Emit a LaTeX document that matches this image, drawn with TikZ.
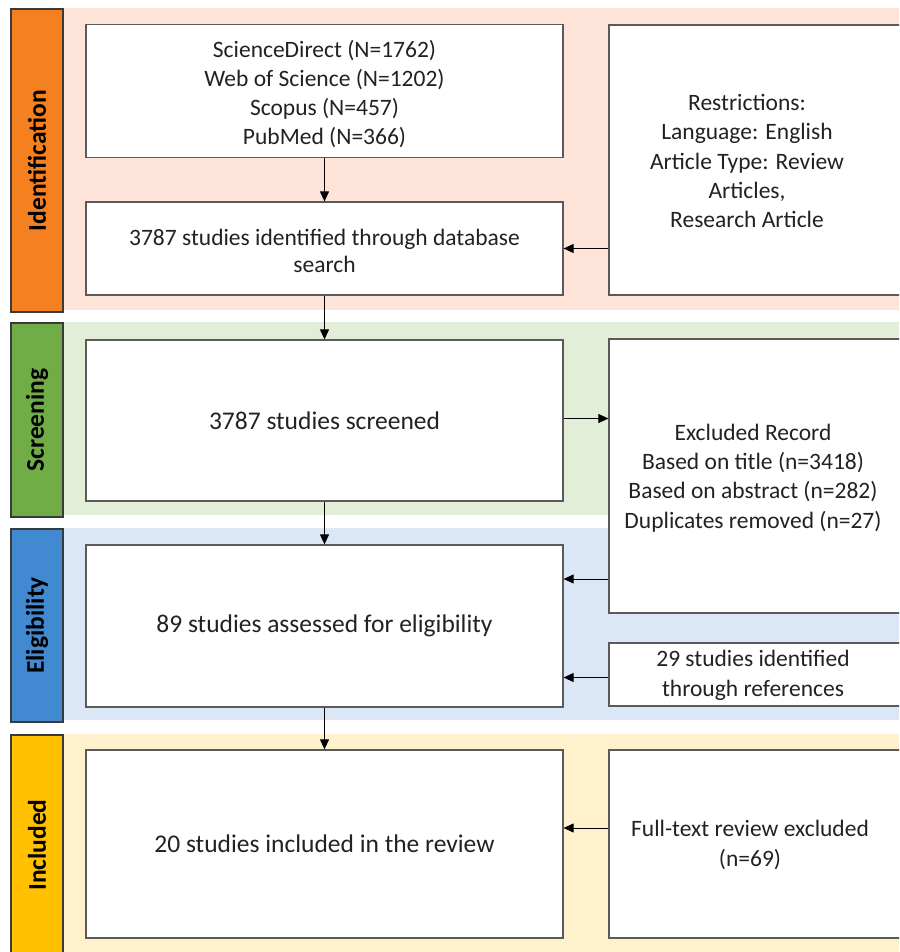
\documentclass[tikz,border=0pt]{standalone}
\usepackage{fontspec}
\setmainfont{Carlito}
\usetikzlibrary{arrows.meta}
\definecolor{idbarc}{HTML}{F4801F}
\definecolor{idband}{HTML}{FDE3D8}
\definecolor{scbarc}{HTML}{70AD47}
\definecolor{scband}{HTML}{E3EED8}
\definecolor{elbarc}{HTML}{418AD2}
\definecolor{elband}{HTML}{DCE7F5}
\definecolor{inbarc}{HTML}{FFC000}
\definecolor{inband}{HTML}{FFF1CC}
\definecolor{boxline}{HTML}{5A5A5A}
\definecolor{barline}{HTML}{3A3A3A}
\definecolor{txt}{HTML}{222222}
\begin{document}
\begin{tikzpicture}[x=1pt,y=-1pt,
  stagebar/.style={draw=barline, line width=1.6pt, rotate=90, inner sep=0pt,
    font=\fontsize{25.5}{28}\selectfont\bfseries, text=black},
  flowbox/.style={draw=boxline, line width=1.2pt, fill=white, inner sep=0pt, align=center,
    font=\fontsize{23.5}{29.5}\selectfont, text=txt},
  bigtext/.style={font=\fontsize{25.5}{29.5}\selectfont},
  boxtext/.style={inner sep=0pt, align=center, font=\fontsize{23.5}{29.3}\selectfont, text=txt},
  arr/.style={draw=black, line width=0.9pt, -{Triangle[length=10pt,width=9pt]}}
]
\useasboundingbox (0,0) rectangle (899,952);
\clip (0,0) rectangle (899,952);
% bands
\fill[idband] (63,8) rectangle (899,310);
\fill[scband] (63,322) rectangle (899,515);
\fill[elband] (63,528) rectangle (899,720);
\fill[inband] (63,734) rectangle (899,952);
% stage bars
\node[stagebar, fill=idbarc, minimum width=303pt, minimum height=52pt] (idbar) at (37,160.5) {Identification};
\node[stagebar, fill=scbarc, minimum width=194pt, minimum height=52pt] (scbar) at (37,420) {Screening};
\node[stagebar, fill=elbarc, minimum width=193pt, minimum height=52pt] (elbar) at (37,625.5) {Eligibility};
\node[stagebar, fill=inbarc, minimum width=225pt, minimum height=52pt] (inbar) at (37,847.5) {};
\node[rotate=90, inner sep=0pt, font=\fontsize{25.5}{28}\selectfont\bfseries, text=black] (inlabel) at (37,845) {Included};
% left column
\node[flowbox, minimum width=477pt, minimum height=133pt] (db) at (324.5,91) {};
\node[boxtext, font=\fontsize{23.5}{29}\selectfont] (dbtxt) at (324.5,94.5)
  {ScienceDirect (N=1762)\\Web of Science (N=1202)\\Scopus (N=457)\\PubMed (N=366)};
\node[flowbox, minimum width=477pt, minimum height=93pt] (ident) at (324.5,248.5) {};
\node[boxtext, font=\fontsize{23.5}{27}\selectfont] (identtxt) at (324.5,251)
  {3787 studies identified through database\\search};
\node[flowbox, bigtext, minimum width=477pt, minimum height=161pt] (screen) at (324.5,420.5)
  {3787 studies screened};
\node[flowbox, bigtext, minimum width=477pt, minimum height=162pt] (elig) at (324.5,626)
  {89 studies assessed for eligibility};
\node[flowbox, bigtext, minimum width=477pt, minimum height=188pt] (incl) at (324.5,844)
  {20 studies included in the review};
% right column
\node[flowbox, minimum width=301pt, minimum height=270pt] (restr) at (759.5,160) {};
\node[boxtext] (restrtxt) at (747,161)
  {Restrictions:\\Language: English\\Article Type: Review\\Articles,\\Research Article};
\node[flowbox, minimum width=301pt, minimum height=274pt] (excl) at (759.5,476) {};
\node[boxtext] (excltxt) at (753,478)
  {Excluded Record\\Based on title (n=3418)\\Based on abstract (n=282)\\Duplicates removed (n=27)};
\node[flowbox, minimum width=301pt, minimum height=63pt] (refs) at (759.5,674.5) {};
\node[boxtext] (refstxt) at (753,675.5)
  {29 studies identified\\through references};
\node[flowbox, minimum width=301pt, minimum height=188pt] (full) at (759.5,844) {};
\node[boxtext] (fulltxt) at (750,845)
  {Full-text review excluded\\(n=69)};
% connectors
\draw[arr] (db.south) -- (ident.north);
\draw[arr] (ident.south) -- (screen.north);
\draw[arr] (screen.south) -- (elig.north);
\draw[arr] (elig.south) -- (incl.north);
\draw[arr] (restr.west |- ident.east) -- (ident.east);
\draw[arr] ([yshift=2pt]screen.east) -- ([yshift=2pt]screen.east -| excl.west);
\draw[arr] ([yshift=-103pt]excl.west) -- ([yshift=-103pt]excl.west -| elig.east);
\draw[arr] ([yshift=-3pt]refs.west) -- ([yshift=-3pt]refs.west -| elig.east);
\draw[arr] ([yshift=16pt]full.west) -- ([yshift=16pt]full.west -| incl.east);
\end{tikzpicture}
\end{document}
